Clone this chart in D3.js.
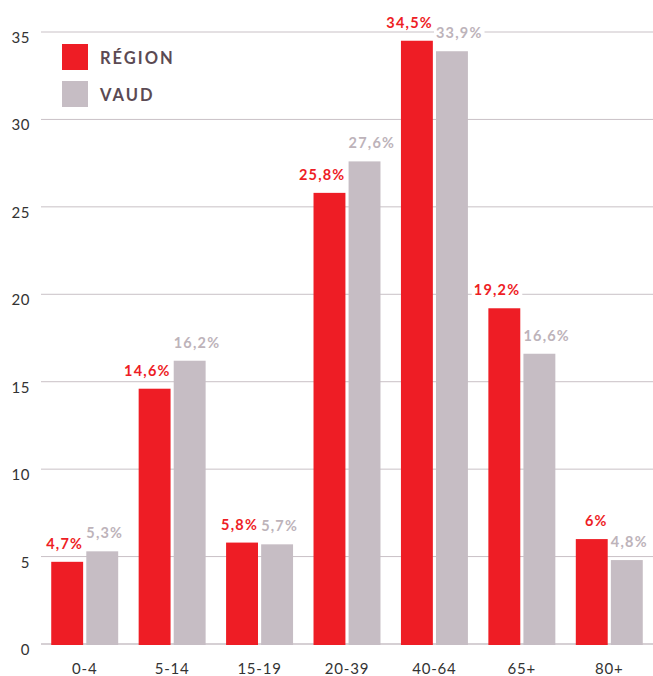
<!DOCTYPE html>
<html>
<head>
<meta charset="utf-8">
<script src="https://cdn.jsdelivr.net/npm/d3@7"></script>
<style>
  body { margin: 0; background: #fff; }
  svg { display: block; font-family: Lato, "Open Sans", sans-serif; }
</style>
</head>
<body>
<div id="chart"></div>
<script>
'use strict';

var categories = ['0-4', '5-14', '15-19', '20-39', '40-64', '65+', '80+'];
var region     = [4.7, 14.6, 5.8, 25.8, 34.5, 19.2, 6];
var vaud       = [5.3, 16.2, 5.7, 27.6, 33.9, 16.6, 4.8];
var yTicks     = [0, 5, 10, 15, 20, 25, 30, 35];
var seriesNames = ['RÉGION', 'VAUD'];

var W = 653, H = 676;
var colors    = ['#ee1d25', '#c6bdc4'];
var txtColors = ['#ee1d25', '#bdb3ba'];

var svg = d3.select('#chart').append('svg')
    .attr('width', W)
    .attr('height', H);

var xScale = d3.scaleBand()
    .domain(categories)
    .range([41, 653])
    .paddingInner(0.234)
    .paddingOuter(0.117);

var x1 = d3.scaleBand()
    .domain([0, 1])
    .range([0, xScale.bandwidth()])
    .paddingInner(0.09);

var yScale = d3.scaleLinear()
    .domain([0, 35])
    .range([644, 32]);

// grid lines + y labels
var grid = svg.append('g').attr('class', 'grid');
grid.selectAll('line')
    .data(yTicks)
    .enter().append('line')
    .attr('x1', 41)
    .attr('x2', W)
    .attr('y1', function(d) { return yScale(d); })
    .attr('y2', function(d) { return yScale(d); })
    .attr('stroke', '#c9c1c6')
    .attr('stroke-width', function(d) { return d === 0 ? 1.5 : 1; });

grid.selectAll('text')
    .data(yTicks)
    .enter().append('text')
    .attr('x', 30)
    .attr('y', function(d) { return yScale(d) + 11; })
    .attr('text-anchor', 'end')
    .attr('font-size', 15)
    .attr('letter-spacing', 0.6)
    .attr('fill', '#333')
    .text(function(d) { return d; });

// x labels
svg.append('g')
    .selectAll('text')
    .data(categories)
    .enter().append('text')
    .attr('x', function(d) { return xScale(d) + xScale.bandwidth() / 2; })
    .attr('y', 674)
    .attr('text-anchor', 'middle')
    .attr('font-size', 15)
    .attr('letter-spacing', 0.8)
    .attr('fill', '#333')
    .text(function(d) { return d; });

// bars
var rows = categories.map(function(c, i) {
    return { cat: c, values: [region[i], vaud[i]] };
});

var group = svg.selectAll('.grp')
    .data(rows)
    .enter().append('g')
    .attr('class', 'grp')
    .attr('transform', function(d) { return 'translate(' + xScale(d.cat) + ',0)'; });

group.selectAll('rect')
    .data(function(d) { return d.values; })
    .enter().append('rect')
    .attr('x', function(d, i) { return x1(i); })
    .attr('width', x1.bandwidth())
    .attr('y', function(d) { return yScale(d); })
    .attr('height', function(d) { return yScale(0) - yScale(d) + 1; })
    .attr('fill', function(d, i) { return colors[i]; });

function fmt(v) { return String(v).replace('.', ',') + '%'; }

// value labels, red right-aligned on bar, grey left-aligned
var lab = group.selectAll('.lab')
    .data(function(d) { return d.values; })
    .enter().append('g')
    .attr('class', 'lab');

lab.append('text')
    .attr('x', function(d, i) { return i === 0 ? x1(i) + x1.bandwidth() : x1(i); })
    .attr('y', function(d) { return yScale(d) - 13; })
    .attr('text-anchor', function(d, i) { return i === 0 ? 'end' : 'start'; })
    .attr('font-size', 14.5)
    .attr('font-weight', 'bold')
    .attr('letter-spacing', 1.2)
    .attr('fill', function(d, i) { return txtColors[i]; })
    .text(fmt);

lab.each(function() {
    var g = d3.select(this);
    var b = g.select('text').node().getBBox();
    g.insert('rect', 'text')
        .attr('x', b.x - 2)
        .attr('y', b.y)
        .attr('width', b.width + 4)
        .attr('height', b.height)
        .attr('fill', '#fff');
});

// legend
var legend = svg.append('g')
    .selectAll('g')
    .data(seriesNames)
    .enter().append('g')
    .attr('transform', function(d, i) { return 'translate(62,' + (44 + i * 37) + ')'; });

legend.append('rect')
    .attr('width', 26)
    .attr('height', 26)
    .attr('fill', function(d, i) { return colors[i]; });

legend.append('text')
    .attr('x', 38)
    .attr('y', 20)
    .attr('font-size', 16.5)
    .attr('font-weight', 'bold')
    .attr('letter-spacing', 2)
    .attr('fill', '#5b4a53')
    .text(function(d) { return d; });
</script>
</body>
</html>
